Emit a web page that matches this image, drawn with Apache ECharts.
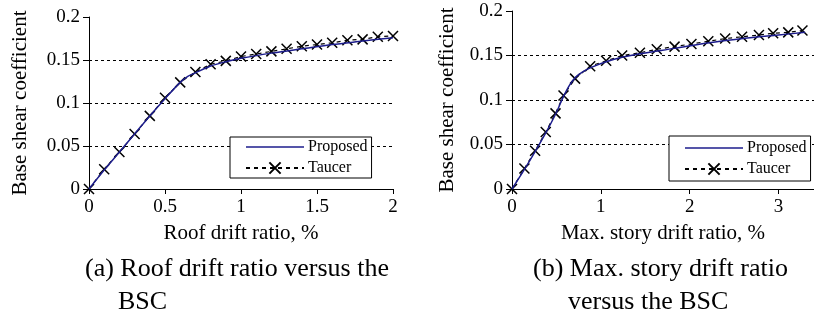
<!DOCTYPE html>
<html>
<head>
<meta charset="utf-8">
<script src="https://cdn.jsdelivr.net/npm/echarts@6/dist/echarts.min.js"></script>
<style>
html, body { margin: 0; padding: 0; background: #fff; }
#chart { width: 814px; height: 321px; }
</style>
</head>
<body>
<div id="chart"></div>
<script>
// (a) roof drift ratio (%) vs base shear coefficient
var roofTaucerX = [0, 0.1, 0.2, 0.3, 0.4, 0.5, 0.6, 0.7, 0.8, 0.9, 1.0, 1.1, 1.2, 1.3, 1.4, 1.5, 1.6, 1.7, 1.8, 1.9, 2.0];
var roofTaucerY = [0, 0.023, 0.043, 0.064, 0.085, 0.106, 0.124, 0.136, 0.145, 0.149, 0.154, 0.157, 0.160, 0.163, 0.166, 0.168, 0.170, 0.173, 0.174, 0.177, 0.178];
var roofPropX = [0, 0.1, 0.2, 0.3, 0.4, 0.5, 0.6, 0.65, 0.7, 0.8, 0.9, 1.0, 1.2, 1.4, 1.6, 1.8, 2.0];
var roofPropY = [0, 0.022, 0.043, 0.064, 0.085, 0.105, 0.124, 0.131, 0.135, 0.143, 0.148, 0.152, 0.158, 0.163, 0.168, 0.172, 0.176];

// (b) max. story drift ratio (%) vs base shear coefficient
var storyTaucerX = [0, 0.14, 0.26, 0.38, 0.49, 0.58, 0.71, 0.88, 1.06, 1.24, 1.44, 1.63, 1.83, 2.02, 2.21, 2.40, 2.59, 2.78, 2.94, 3.11, 3.27];
var storyTaucerY = [0, 0.023, 0.043, 0.064, 0.085, 0.105, 0.124, 0.138, 0.144, 0.150, 0.153, 0.157, 0.160, 0.163, 0.166, 0.169, 0.171, 0.173, 0.175, 0.176, 0.178];
var storyPropX = [0, 0.14, 0.26, 0.38, 0.49, 0.58, 0.65, 0.72, 0.8, 0.9, 1.06, 1.24, 1.44, 1.83, 2.2, 2.6, 3.0, 3.3];
var storyPropY = [0, 0.022, 0.042, 0.063, 0.084, 0.104, 0.117, 0.126, 0.132, 0.137, 0.143, 0.148, 0.152, 0.158, 0.164, 0.169, 0.173, 0.176];

var yTicks = ['0', '0.05', '0.1', '0.15', '0.2'];

var FONT = '"Liberation Serif", "Times New Roman", serif';
var crossMark = 'path://M0,0L10,10M10,0L0,10';
var lineIcon = 'path://M0,0L58,0L58,1.6L0,1.6Z';

function pairs(xs, ys) {
	return xs.map(function (x, i) { return [x, ys[i]]; });
}

function xAxisOf(gridIndex, max, interval, name) {
	return {
		type: 'value',
		gridIndex: gridIndex,
		min: 0,
		max: max,
		interval: interval,
		name: name,
		nameLocation: 'middle',
		nameGap: 34,
		nameTextStyle: { fontFamily: FONT, fontSize: 21, color: '#000' },
		axisLine: { show: true, lineStyle: { color: '#000', width: 1 } },
		axisTick: { show: true, inside: false, length: 5, lineStyle: { color: '#000' } },
		axisLabel: { fontFamily: FONT, fontSize: 19, color: '#000', margin: 9, showMaxLabel: max === 2 },
		splitLine: { show: false }
	};
}

function yAxisOf(gridIndex, nameGap) {
	return {
		type: 'value',
		gridIndex: gridIndex,
		min: 0,
		max: 0.2,
		interval: 0.05,
		name: 'Base shear coefficient',
		nameLocation: 'middle',
		nameGap: nameGap,
		nameTextStyle: { fontFamily: FONT, fontSize: 21, color: '#000' },
		axisLine: { show: true, lineStyle: { color: '#000', width: 1 } },
		axisTick: { show: true, inside: false, length: 6, lineStyle: { color: '#000' } },
		axisLabel: {
			fontFamily: FONT, fontSize: 19, color: '#000', margin: 9,
			formatter: function (v) { return yTicks[Math.round(v / 0.05)]; }
		},
		splitLine: {
			show: true,
			showMinLine: false,
			showMaxLine: false,
			lineStyle: { color: '#000', width: 1, type: [3, 3] }
		}
	};
}

function taucer(idx, data) {
	return {
		name: 'Taucer',
		type: 'line',
		xAxisIndex: idx,
		yAxisIndex: idx,
		data: data,
		z: 1,
		symbol: crossMark,
		symbolSize: 10,
		showAllSymbol: true,
		lineStyle: { color: '#000', width: 1.2, type: [4, 4] },
		itemStyle: { color: '#000', borderColor: '#000', borderWidth: 1.5 },
		silent: true,
		animation: false
	};
}

function proposed(idx, data) {
	return {
		name: 'Proposed',
		type: 'line',
		xAxisIndex: idx,
		yAxisIndex: idx,
		data: data,
		z: 2,
		smooth: 0.3,
		symbol: 'none',
		lineStyle: { color: '#1c1c8c', width: 1.5 },
		itemStyle: { color: '#1c1c8c' },
		silent: true,
		animation: false
	};
}

function legendOf(left, top, padV) {
	return {
		orient: 'vertical',
		left: left,
		top: top,
		data: [{ name: 'Proposed', icon: lineIcon }, { name: 'Taucer' }],
		itemWidth: 58,
		itemHeight: 14,
		itemGap: 5,
		symbolKeepAspect: true,
		padding: [padV, 4, padV, 15],
		backgroundColor: '#fff',
		borderColor: '#000',
		borderWidth: 1,
		borderRadius: 0,
		selectedMode: false,
		textStyle: { fontFamily: FONT, fontSize: 16, color: '#000', padding: [0, 0, 0, -1] }
	};
}

var myChart = echarts.init(document.getElementById('chart'));

var option = {
	backgroundColor: '#fff',
	animation: false,
	grid: [
		{ left: 89, right: 421, top: 17, bottom: 132 },
		{ left: 512, right: 0, top: 11, bottom: 132 }
	],
	xAxis: [
		xAxisOf(0, 2, 0.5, 'Roof drift ratio, %'),
		xAxisOf(1, 3.4, 1, 'Max. story drift ratio, %')
	],
	yAxis: [
		yAxisOf(0, 58),
		yAxisOf(1, 54)
	],
	legend: [
		legendOf(230, 137, 2),
		legendOf(669, 136, 4)
	],
	series: [
		taucer(0, pairs(roofTaucerX, roofTaucerY)),
		proposed(0, pairs(roofPropX, roofPropY)),
		taucer(1, pairs(storyTaucerX, storyTaucerY)),
		proposed(1, pairs(storyPropX, storyPropY))
	],
	graphic: [
		{ type: 'text', left: 85, top: 256, style: { text: '(a) Roof drift ratio versus the', font: '26px ' + FONT, fill: '#000' } },
		{ type: 'text', left: 118, top: 289, style: { text: 'BSC', font: '26px ' + FONT, fill: '#000' } },
		{ type: 'text', left: 533, top: 256, style: { text: '(b) Max. story drift ratio', font: '26px ' + FONT, fill: '#000' } },
		{ type: 'text', left: 568, top: 289, style: { text: 'versus the BSC', font: '26px ' + FONT, fill: '#000' } }
	]
};

myChart.setOption(option);
</script>
</body>
</html>
